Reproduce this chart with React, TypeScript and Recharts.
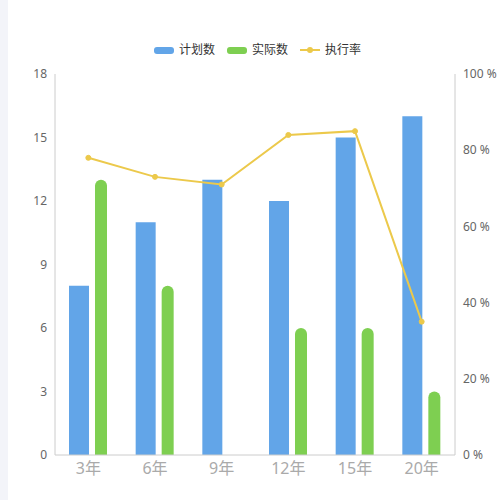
import React from "react";
import {
    ComposedChart,
    Bar,
    Line,
    XAxis,
    YAxis,
} from "recharts";

const categories = ["3年", "6年", "9年", "12年", "15年", "20年"];
const planned = [8, 11, 13, 12, 15, 16];
const actual = [13, 8, 0, 6, 6, 3];
const rate = [78, 73, 71, 84, 85, 35];
const leftTicks = [0, 3, 6, 9, 12, 15, 18];
const rightTicks = [0, 20, 40, 60, 80, 100];

const BLUE = "#62a5e8";
const GREEN = "#7ecf51";
const YELLOW = "#ecc94b";
const FONT = '"Noto Sans", "Noto Sans CJK SC", sans-serif';

const data = categories.map((name, i) => ({
    name,
    planned: planned[i],
    actual: actual[i],
    rate: rate[i],
}));

// legend drawn above the plot, outside the svg
const ChartLegend = () => {
    const items = [
        { label: "计划数", color: BLUE, type: "rect" },
        { label: "实际数", color: GREEN, type: "rect" },
        { label: "执行率", color: YELLOW, type: "line" },
    ];
    return (
        <div
            style={{
                position: "absolute",
                left: 154,
                top: 41,
                display: "flex",
                alignItems: "center",
                gap: 12,
                fontFamily: FONT,
                fontSize: 12,
                color: "#333",
                lineHeight: "18px",
            }}
        >
            {items.map((it) => (
                <div key={it.label} style={{ display: "flex", alignItems: "center", gap: 5 }}>
                    {it.type === "rect" ? (
                        <span
                            style={{
                                display: "inline-block",
                                width: 20,
                                height: 7,
                                borderRadius: 3,
                                background: it.color,
                            }}
                        />
                    ) : (
                        <svg width={20} height={8}>
                            <line x1={0} y1={4} x2={20} y2={4} stroke={it.color} strokeWidth={2} />
                            <circle cx={10} cy={4} r={3} fill={it.color} />
                        </svg>
                    )}
                    <span>{it.label}</span>
                </div>
            ))}
        </div>
    );
};

export default function App() {
    return (
        <div
            style={{
                position: "fixed",
                left: 0,
                top: 0,
                width: 500,
                height: 500,
                background: "#fff",
            }}
        >
            <div
                style={{
                    position: "absolute",
                    left: 0,
                    top: 0,
                    width: 8,
                    height: 500,
                    background: "#f3f4f9",
                }}
            />
            <ChartLegend />
            <div style={{ position: "absolute", left: 0, top: 0 }}>
                <ComposedChart
                    width={500}
                    height={500}
                    data={data}
                    barGap={6}
                    margin={{ top: 74, right: 0, left: 0, bottom: 0 }}
                    style={{ fontFamily: FONT }}
                >
                    <XAxis
                        dataKey="name"
                        height={45}
                        tickLine={false}
                        axisLine={{ stroke: "#ccc" }}
                        tick={{ fontSize: 16, fill: "#aaa" }}
                    />
                    <YAxis
                        yAxisId="left"
                        width={55}
                        domain={[0, 18]}
                        ticks={leftTicks}
                        tickLine={false}
                        axisLine={{ stroke: "#ccc" }}
                        tick={{ fontSize: 12, fill: "#666" }}
                    />
                    <YAxis
                        yAxisId="right"
                        orientation="right"
                        width={45}
                        domain={[0, 100]}
                        ticks={rightTicks}
                        tickLine={false}
                        axisLine={{ stroke: "#ccc" }}
                        tick={{ fontSize: 12, fill: "#666" }}
                        tickFormatter={(v) => `${v} %`}
                    />
                    <Bar
                        yAxisId="left"
                        dataKey="planned"
                        fill={BLUE}
                        barSize={20}
                        isAnimationActive={false}
                    />
                    <Bar
                        yAxisId="left"
                        dataKey="actual"
                        fill={GREEN}
                        barSize={12}
                        radius={[6, 6, 0, 0]}
                        isAnimationActive={false}
                    />
                    <Line
                        yAxisId="right"
                        dataKey="rate"
                        stroke={YELLOW}
                        strokeWidth={2}
                        dot={{ r: 2.5, fill: YELLOW, stroke: YELLOW, strokeWidth: 1 }}
                        activeDot={false}
                        isAnimationActive={false}
                    />
                </ComposedChart>
            </div>
        </div>
    );
}
